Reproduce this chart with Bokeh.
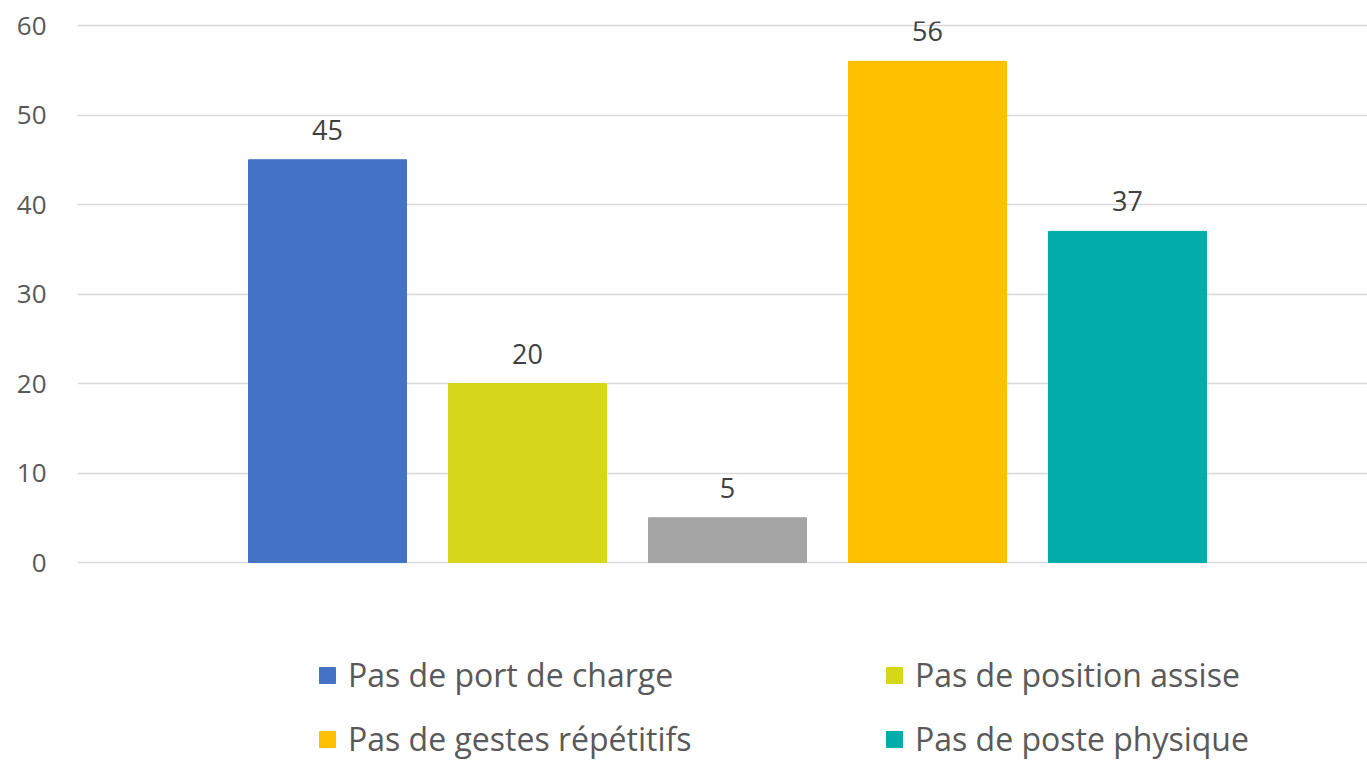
from bokeh.plotting import figure
from bokeh.models import ColumnDataSource, Range1d, LabelSet, Legend, LegendItem, FixedTicker
from bokeh.core.properties import value
from bokeh.embed import file_html
from bokeh.resources import INLINE

# ---- data ----
series = ["Pas de port de charge", "Pas de position assise", "", "Pas de gestes répétitifs", "Pas de poste physique"]
values = [45, 20, 5, 56, 37]
colors = ["#4472C4", "#D6D71A", "#A5A5A5", "#FFC000", "#00ADA9"]
positions = [1, 2, 3, 4, 5]
y_ticks = [0, 10, 20, 30, 40, 50, 60]

src = ColumnDataSource(dict(x=positions, v=values, c=colors, lab=[str(v) for v in values], name=series))

FONT = "Open Sans"
W, H = 1367, 760
TOP, ZERO_PX = 21, 562           # frame top, pixel row of value 0
K = 537 / 60                      # pixels per unit
y0 = -(H - ZERO_PX) / K
y1 = (ZERO_PX - TOP) / K

p = figure(width=W, height=H, output_backend="svg", toolbar_location=None,
           x_range=Range1d(-0.25, 6.2), y_range=Range1d(y0, y1),
           min_border_left=77, min_border_right=0, min_border_top=TOP, min_border_bottom=0)
p.outline_line_color = None
p.background_fill_color = "white"
p.border_fill_color = "white"

r = p.vbar(x="x", top="v", bottom=0, width=0.79, color="c", source=src)

# axes
p.xaxis.visible = False
p.xgrid.visible = False
p.yaxis.ticker = FixedTicker(ticks=y_ticks)
p.yaxis.axis_line_color = None
p.yaxis.major_tick_line_color = None
p.yaxis.minor_tick_line_color = None
p.yaxis.major_label_standoff = 25
p.yaxis.major_label_text_font = FONT
p.yaxis.major_label_text_font_size = "26px"
p.yaxis.major_label_text_color = "#595959"
p.ygrid.grid_line_color = "#D9D9D9"
p.ygrid.grid_line_width = 1.5
p.ygrid.ticker = FixedTicker(ticks=y_ticks)

labels = LabelSet(x="x", y="v", text="lab", source=src, text_align="center",
                  text_baseline="alphabetic", y_offset=20, text_font=value(FONT),
                  text_font_size="27px", text_color="#404040")
p.add_layout(labels)

def mk_legend(items, loc):
    lg = Legend(items=items, location=loc, orientation="vertical")
    lg.border_line_color = None
    lg.background_fill_alpha = 0
    lg.padding = 0
    lg.margin = 0
    lg.spacing = 21
    lg.glyph_width = 20
    lg.glyph_height = 20
    lg.label_standoff = 11
    lg.label_text_font = FONT
    lg.label_text_font_size = "32px"
    lg.label_text_color = "#595959"
    return lg

leg1 = mk_legend([LegendItem(label=series[0], renderers=[r], index=0),
                  LegendItem(label=series[3], renderers=[r], index=3)], (240, 0))
leg2 = mk_legend([LegendItem(label=series[1], renderers=[r], index=1),
                  LegendItem(label=series[4], renderers=[r], index=4)], (807, 0))
p.add_layout(leg1, "center")
p.add_layout(leg2, "center")

open("out.html", "w").write(file_html(p, INLINE))
